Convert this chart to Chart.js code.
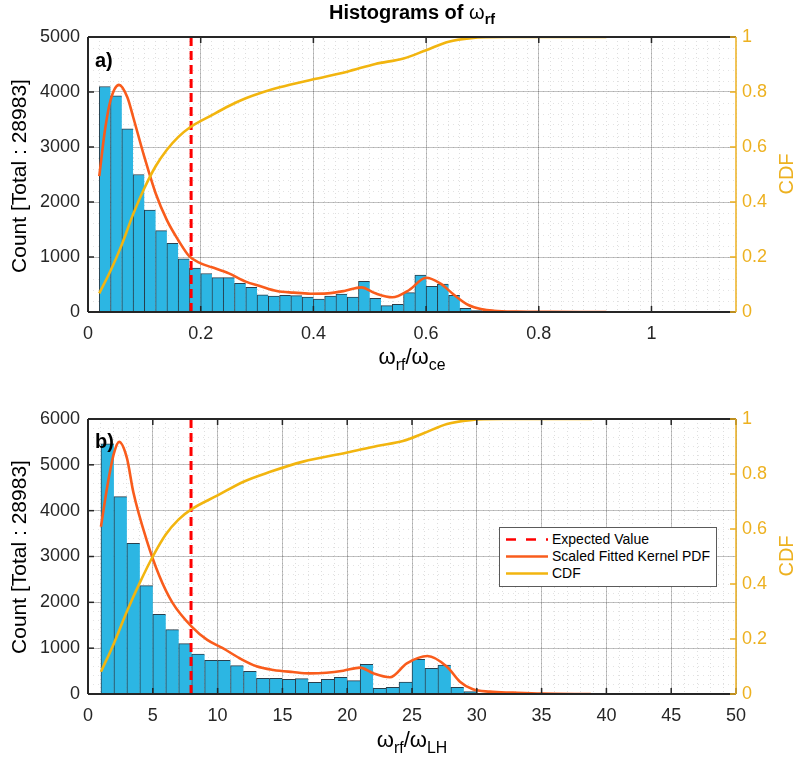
<!DOCTYPE html>
<html>
<head>
<meta charset="utf-8">
<script src="https://cdn.jsdelivr.net/npm/chart.js@4.4.1/dist/chart.umd.min.js"></script>
<style>
  html, body { margin:0; padding:0; background:#fff; }
  body { width:800px; height:760px; position:relative; overflow:hidden; font-family:'Liberation Sans', Arial, Helvetica, sans-serif; }
  .wrap { position:absolute; left:0; width:800px; height:380px; }
  .t { position:absolute; white-space:nowrap; color:#000; }
  .sub { font-size:0.72em; position:relative; top:0.35em; }
  .rot { transform:translate(-50%,-50%) rotate(-90deg); transform-origin:center center; }
  .legend { position:absolute; left:499px; top:527px; width:216px; height:58px; border:1px solid #5a5a5a; background:#fff; font-size:14px; }
  .legend .row { position:absolute; left:0; height:17px; width:216px; }
  .legend svg { position:absolute; left:5px; top:0; }
  .legend span { position:absolute; left:52px; top:0; line-height:17px; }
</style>
</head>
<body>
<div class="wrap" style="top:0"><canvas id="c1" width="800" height="380"></canvas></div>
<div class="wrap" style="top:380px"><canvas id="c2" width="800" height="380"></canvas></div>

<div class="t" style="left:0; width:824px; text-align:center; top:2px; font-size:20px; line-height:20px; font-weight:bold;">Histograms of <span style="font-weight:normal">ω</span><span class="sub">rf</span></div>

<div class="t" style="left:0; width:824px; text-align:center; top:346px; font-size:22px; line-height:22px;">ω<span class="sub">rf</span>/ω<span class="sub">ce</span></div>
<div class="t" style="left:0; width:824px; text-align:center; top:729px; font-size:22px; line-height:22px;">ω<span class="sub">rf</span>/ω<span class="sub">LH</span></div>

<div class="t rot" style="left:18px; top:176px; font-size:21px; line-height:21px;">Count [Total : 28983]</div>
<div class="t rot" style="left:18px; top:557px; font-size:21px; line-height:21px;">Count [Total : 28983]</div>
<div class="t rot" style="left:786px; top:174px; font-size:20px; line-height:20px; color:#EDB120;">CDF</div>
<div class="t rot" style="left:786px; top:556px; font-size:20px; line-height:20px; color:#EDB120;">CDF</div>

<div class="t" style="left:95px; top:50px; font-size:20px; line-height:20px; font-weight:bold;">a)</div>
<div class="t" style="left:95px; top:431px; font-size:20px; line-height:20px; font-weight:bold;">b)</div>

<div class="legend">
  <div class="row" style="top:3px"><svg width="44" height="17"><line x1="1" y1="8.5" x2="43" y2="8.5" stroke="#FF0000" stroke-width="2.5" stroke-dasharray="10,10"/></svg><span>Expected Value</span></div>
  <div class="row" style="top:20px"><svg width="44" height="17"><line x1="1" y1="8.5" x2="43" y2="8.5" stroke="#F95C1C" stroke-width="2.5"/></svg><span>Scaled Fitted Kernel PDF</span></div>
  <div class="row" style="top:37px"><svg width="44" height="17"><line x1="1" y1="8.5" x2="43" y2="8.5" stroke="#F2B50F" stroke-width="2.5"/></svg><span>CDF</span></div>
</div>

<script>
// ---------- Panel a) : omega_rf / omega_ce ----------
const topBinCenters = [0.03,0.05,0.07,0.09,0.11,0.13,0.15,0.17,0.19,0.21,0.23,0.25,0.27,0.29,0.31,0.33,0.35,0.37,0.39,0.41,0.43,0.45,0.47,0.49,0.51,0.53,0.55,0.57,0.59,0.61,0.63,0.65,0.67,0.69,0.71];
const topCounts = [4100,3930,3330,2500,1855,1480,1250,965,800,700,625,625,520,450,310,290,305,297,273,236,291,327,273,558,248,115,139,352,673,467,509,303,67,24,6];
const topPdfX = [0.02,0.03,0.04,0.055,0.07,0.08,0.10,0.12,0.14,0.16,0.18,0.20,0.22,0.25,0.28,0.305,0.335,0.365,0.395,0.425,0.455,0.485,0.51,0.54,0.57,0.60,0.625,0.65,0.675,0.70,0.72,0.76,0.82,0.92];
const topPdfY = [2470,3300,3850,4130,3900,3550,2820,2160,1670,1310,1010,885,812,703,552,473,382,352,333,339,382,448,339,267,400,624,521,309,127,48,24,8,2,0];
const topCdfX = [0.02,0.04,0.06,0.08,0.10,0.12,0.14,0.16,0.18,0.22,0.25,0.28,0.31,0.34,0.40,0.46,0.51,0.56,0.60,0.64,0.68,0.74,0.92];
const topCdfY = [0.068,0.15,0.245,0.355,0.45,0.53,0.59,0.636,0.67,0.716,0.749,0.777,0.799,0.817,0.846,0.874,0.902,0.922,0.952,0.983,0.996,1.0,1.0];
const topExpected = 0.183;
const topXTicks = [0,0.2,0.4,0.6,0.8,1];
const topYTicks = [0,1000,2000,3000,4000,5000];

// ---------- Panel b) : omega_rf / omega_LH ----------
const bottomBinCenters = [1.5,2.5,3.5,4.5,5.5,6.5,7.5,8.5,9.5,10.5,11.5,12.5,13.5,14.5,15.5,16.5,17.5,18.5,19.5,20.5,21.5,22.5,23.5,24.5,25.5,26.5,27.5,28.5,29.5,30.5];
const bottomCounts = [5460,4305,3287,2364,1738,1404,1098,873,735,735,618,495,342,342,320,335,255,320,364,291,647,124,145,262,756,560,633,145,51,10];
const bottomPdfX = [1.0,1.5,2.0,2.4,3.0,3.5,4.5,5.5,6.5,8.0,9.2,10.4,11.7,13.0,14.3,15.8,17.1,18.4,19.7,21.0,22.0,23.3,24.6,26.2,27.7,28.7,29.7,31.0,32.8,35.0,38.8];
const bottomPdfY = [3650,4550,5250,5500,5150,4400,3380,2580,2000,1470,1180,1000,780,605,525,480,451,465,509,575,451,364,669,829,596,269,102,51,29,8,0];
const bottomCdfX = [1.0,2.0,3.0,4.0,5.0,6.0,7.0,8.0,10.0,12.0,14.0,16.6,20.0,22.3,24.3,25.9,27.7,29.5,32.0,38.9];
const bottomCdfY = [0.081,0.184,0.30,0.405,0.50,0.58,0.635,0.672,0.722,0.772,0.807,0.845,0.878,0.902,0.920,0.948,0.982,0.996,1.0,1.0];
const bottomExpected = 7.95;
const bottomXTicks = [0,5,10,15,20,25,30,35,40,45,50];
const bottomYTicks = [0,1000,2000,3000,4000,5000,6000];

const cdfTicks = [0,0.2,0.4,0.6,0.8,1];

const BAR = '#2CB6E3', EDGE = 'rgba(18,42,58,0.9)', ORANGE = '#F95C1C', YELLOW = '#F2B50F', AXIS_YELLOW = '#EDB120';
const FONT = { family: "'Liberation Sans', Arial, Helvetica, sans-serif", size: 18 };

const boxPlugin = {
  id: 'matlabBox',
  afterDatasetsDraw(chart) {
    const { ctx, chartArea: a, scales } = chart;
    const seg = (x1, y1, x2, y2) => { ctx.beginPath(); ctx.moveTo(x1, y1); ctx.lineTo(x2, y2); ctx.stroke(); };
    ctx.save();
    ctx.strokeStyle = '#262626';
    ctx.lineWidth = 1.5;
    const L = 6;
    scales.x.ticks.forEach(t => {
      const px = scales.x.getPixelForValue(t.value);
      seg(px, a.bottom, px, a.bottom - L);
      seg(px, a.top, px, a.top + L);
    });
    scales.y.ticks.forEach(t => {
      const py = scales.y.getPixelForValue(t.value);
      seg(a.left, py, a.left + L, py);
    });
    ctx.lineWidth = 2;
    seg(a.left, a.top, a.right, a.top);
    seg(a.left, a.bottom, a.right, a.bottom);
    seg(a.left, a.top, a.left, a.bottom);
    ctx.strokeStyle = AXIS_YELLOW;
    ctx.lineWidth = 1.5;
    seg(a.right, a.top, a.right, a.bottom);
    scales.y2.ticks.forEach(t => {
      const py = scales.y2.getPixelForValue(t.value);
      seg(a.right, py, a.right - L, py);
    });
    ctx.restore();
  }
};

function build(id, o) {
  const setTicks = arr => s => { s.ticks = arr.map(v => ({ value: v })); };
  const pts = (xs, ys) => xs.map((x, i) => ({ x: x, y: ys[i] }));
  return new Chart(document.getElementById(id), {
    type: 'line',
    data: {
      datasets: [
        { type: 'bar', label: 'Count', data: pts(o.centers, o.counts), xAxisID: 'x', yAxisID: 'y',
          backgroundColor: BAR, borderColor: EDGE, borderWidth: { top: 1, left: 1, right: 0, bottom: 0 },
          borderSkipped: false, barPercentage: 1, categoryPercentage: 1, order: 4 },
        { label: 'Expected Value', data: [{ x: o.ev, y: 0 }, { x: o.ev, y: o.yMax }], xAxisID: 'x', yAxisID: 'y',
          borderColor: '#FF0000', borderWidth: 3, borderDash: [9, 5], pointRadius: 0, fill: false, order: 3 },
        { label: 'Scaled Fitted Kernel PDF', data: pts(o.pdfX, o.pdfY), xAxisID: 'x', yAxisID: 'y',
          borderColor: ORANGE, borderWidth: 2.6, pointRadius: 0, fill: false, cubicInterpolationMode: 'monotone', order: 2 },
        { label: 'CDF', data: pts(o.cdfX, o.cdfY), xAxisID: 'x', yAxisID: 'y2',
          borderColor: YELLOW, borderWidth: 2.6, pointRadius: 0, fill: false, cubicInterpolationMode: 'monotone', order: 1 }
      ]
    },
    options: {
      responsive: false, animation: false, devicePixelRatio: 1,
      layout: { padding: { top: o.padTop, left: 0, right: 0, bottom: 0 } },
      plugins: { legend: { display: false }, tooltip: { enabled: false }, title: { display: false } },
      scales: {
        x: { type: 'linear', min: 0, max: o.xMax, offset: false, position: 'bottom',
             afterBuildTicks: setTicks(o.xTicks), afterFit: s => { s.height = o.xAxisH; },
             ticks: { callback: v => String(v), font: FONT, color: '#262626', padding: 11, autoSkip: false, maxRotation: 0 },
             grid: { color: 'rgba(0,0,0,0.24)', lineWidth: 1, drawTicks: false, offset: false },
             border: { display: false } },
        xm: { type: 'linear', min: 0, max: o.xMax, offset: false, position: 'bottom',
              afterFit: s => { s.height = 0; },
              ticks: { display: false, stepSize: o.xMinor, maxTicksLimit: 1000 },
              grid: { color: 'rgba(0,0,0,0.13)', lineWidth: 1, drawTicks: false, offset: false },
              border: { display: false, dash: [1, 3] } },
        y: { type: 'linear', min: 0, max: o.yMax, position: 'left',
             afterBuildTicks: setTicks(o.yTicks), afterFit: s => { s.width = 88; },
             ticks: { callback: v => String(v), font: FONT, color: '#262626', padding: 8 },
             grid: { color: 'rgba(0,0,0,0.24)', lineWidth: 1, drawTicks: false },
             border: { display: false } },
        ym: { type: 'linear', min: 0, max: o.yMax, position: 'left',
              afterFit: s => { s.width = 0; },
              ticks: { display: false, stepSize: 200, maxTicksLimit: 1000 },
              grid: { color: 'rgba(0,0,0,0.11)', lineWidth: 1, drawTicks: false },
              border: { display: false, dash: [1, 4] } },
        y2: { type: 'linear', min: 0, max: 1, position: 'right',
              afterBuildTicks: setTicks(cdfTicks), afterFit: s => { s.width = 64; },
              ticks: { callback: v => String(v), font: FONT, color: AXIS_YELLOW, padding: 6 },
              grid: { drawOnChartArea: false, drawTicks: false },
              border: { display: false } }
      }
    },
    plugins: [boxPlugin]
  });
}

build('c1', { centers: topBinCenters, counts: topCounts, pdfX: topPdfX, pdfY: topPdfY, cdfX: topCdfX, cdfY: topCdfY,
  ev: topExpected, xMax: 1.15, xMinor: 0.02, xTicks: topXTicks, yMax: 5000, yTicks: topYTicks, padTop: 37, xAxisH: 68 });
build('c2', { centers: bottomBinCenters, counts: bottomCounts, pdfX: bottomPdfX, pdfY: bottomPdfY, cdfX: bottomCdfX, cdfY: bottomCdfY,
  ev: bottomExpected, xMax: 50, xMinor: 1, xTicks: bottomXTicks, yMax: 6000, yTicks: bottomYTicks, padTop: 39, xAxisH: 66 });
</script>
</body>
</html>
